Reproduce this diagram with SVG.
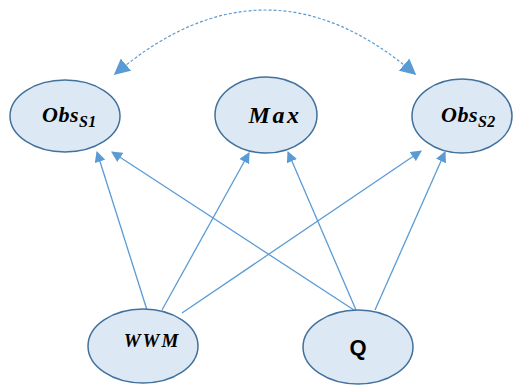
<svg xmlns="http://www.w3.org/2000/svg" width="514" height="386" viewBox="0 0 514 386">
<style>
.n{fill:#dde8f5;stroke:#41719c;stroke-width:1.5}
.t{font-family:"Liberation Serif",serif;font-weight:bold;font-style:italic;fill:#000}
.e{stroke:#5b9bd5;stroke-width:1.3;fill:none;marker-end:url(#ah)}
</style>
<defs>
<marker id="ah" viewBox="0 0 10 10" refX="9" refY="5" markerWidth="11" markerHeight="11" markerUnits="userSpaceOnUse" orient="auto">
<path d="M0,0 L10,5 L0,10 z" fill="#5b9bd5"/>
</marker>
<marker id="ah2" viewBox="0 0 10 10" refX="9" refY="5" markerWidth="16" markerHeight="16" markerUnits="userSpaceOnUse" orient="auto-start-reverse">
<path d="M0,0 L10,5 L0,10 z" fill="#5b9bd5"/>
</marker>
</defs>
<g id="connectors">
<line class="e" x1="147" y1="310" x2="97" y2="152"/>
<line class="e" x1="162" y1="310" x2="249" y2="153"/>
<line class="e" x1="182" y1="313" x2="421" y2="151"/>
<line class="e" x1="357" y1="312" x2="112" y2="152"/>
<line class="e" x1="356" y1="310" x2="288" y2="152"/>
<line class="e" x1="375" y1="310" x2="445" y2="152"/>
<path d="M115,74 Q266,-54 415,74" fill="none" stroke="#5b9bd5" stroke-width="1.2" stroke-dasharray="3,2" marker-start="url(#ah2)" marker-end="url(#ah2)"/>
</g>
<g id="obs1">
<ellipse class="n" cx="65" cy="116" rx="55" ry="36"/>
<text class="t" x="42" y="122" font-size="22" letter-spacing="0.5">Obs<tspan font-size="16" dy="5">S1</tspan></text>
</g>
<g id="max">
<ellipse class="n" cx="266" cy="115" rx="51" ry="38"/>
<text class="t" x="275" y="123" font-size="24" text-anchor="middle" letter-spacing="2.5">Max</text>
</g>
<g id="obs2">
<ellipse class="n" cx="462" cy="116" rx="50" ry="37"/>
<text class="t" x="441" y="122" font-size="22" letter-spacing="0.5">Obs<tspan font-size="16" dy="5">S2</tspan></text>
</g>
<g id="wwm">
<ellipse class="n" cx="143" cy="346" rx="55" ry="37"/>
<text class="t" x="152" y="347" font-size="19" text-anchor="middle" letter-spacing="2">WWM</text>
</g>
<g id="q">
<ellipse class="n" cx="358" cy="347" rx="55" ry="37"/>
<text x="358" y="355" font-size="22" text-anchor="middle" font-family="Liberation Sans, sans-serif" font-weight="bold">Q</text>
</g>
</svg>
